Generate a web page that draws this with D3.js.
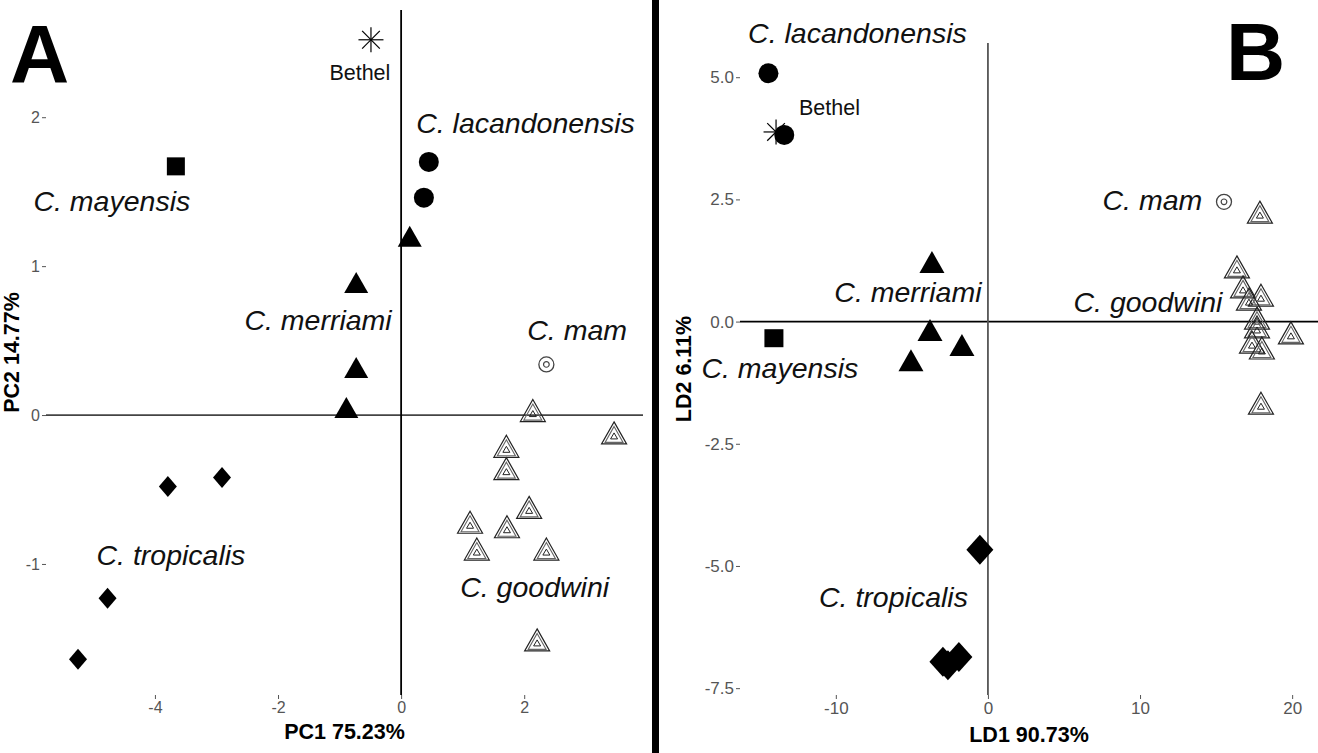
<!DOCTYPE html>
<html>
<head>
<meta charset="utf-8">
<script src="https://cdn.jsdelivr.net/npm/d3@7"></script>
<style>
  html, body { margin: 0; padding: 0; background: #fff; }
  svg { display: block; font-family: "Liberation Sans", Arial, sans-serif; }
</style>
</head>
<body>
<svg id="chart" width="1318" height="753"></svg>
<script>
  'use strict';

  // ---- panel A : PCA scores ----
  var pcaBethel = [[-0.49, 2.52]];
  var pcaMayensis = [[-3.66, 1.67]];
  var pcaLacandonensis = [[0.45, 1.70], [0.37, 1.46]];
  var pcaMerriami = [[0.14, 1.20], [-0.73, 0.89], [-0.73, 0.32], [-0.89, 0.05]];
  var pcaMam = [[2.36, 0.34]];
  var pcaGoodwini = [[2.14, 0.03], [3.46, -0.12], [1.71, -0.21], [1.71, -0.36], [2.08, -0.62],
    [1.12, -0.72], [1.72, -0.75], [1.23, -0.90], [2.36, -0.90], [2.21, -1.51]];
  var pcaTropicalis = [[-3.79, -0.48], [-2.91, -0.42], [-4.77, -1.23], [-5.25, -1.64]];
  var pcaXTicks = [-4, -2, 0, 2];
  var pcaYTicks = [-1, 0, 1, 2];
  var pcaLabels = [
    ['Bethel', -0.67, 2.30],
    ['C. lacandonensis', 2.02, 1.96],
    ['C. mayensis', -4.70, 1.44],
    ['C. merriami', -1.35, 0.64],
    ['C. mam', 2.86, 0.57],
    ['C. tropicalis', -3.74, -0.94],
    ['C. goodwini', 2.17, -1.155]
  ];

  // ---- panel B : LDA scores ----
  var ldaBethel = [[-13.93, 3.88]];
  var ldaMayensis = [[-14.07, -0.34]];
  var ldaLacandonensis = [[-14.43, 5.08], [-13.39, 3.82]];
  var ldaMerriami = [[-3.68, 1.22], [-3.81, -0.17], [-1.71, -0.48], [-5.06, -0.79]];
  var ldaMam = [[15.52, 2.45]];
  var ldaGoodwini = [[17.88, 2.24], [16.37, 1.12], [16.77, 0.71], [17.95, 0.54], [17.16, 0.46],
    [17.69, 0.07], [17.69, -0.11], [19.92, -0.23], [17.36, -0.42], [18.01, -0.54], [17.95, -1.67]];
  var ldaTropicalis = [[-0.53, -4.67], [-2.96, -6.96], [-1.91, -6.86], [-2.63, -7.03]];
  var ldaXTicks = [-10, 0, 10, 20];
  var ldaYTicks = [-7.5, -5, -2.5, 0, 2.5, 5];
  var ldaLabels = [
    ['Bethel', -10.42, 4.37],
    ['C. lacandonensis', -8.58, 5.90],
    ['C. mayensis', -13.68, -0.95],
    ['C. merriami', -5.26, 0.61],
    ['C. mam', 10.81, 2.49],
    ['C. tropicalis', -6.21, -5.63],
    ['C. goodwini', 10.52, 0.40]
  ];

  var svg = d3.select('#chart');

  // ggplot prints a plain hyphen, not the unicode minus d3 uses
  function hyphen(fmt) {
    return function(d) { return fmt(d).replace('\u2212', '-'); };
  }

  // divider between the two panels
  svg.append('rect')
    .attr('x', 652)
    .attr('y', 0)
    .attr('width', 7)
    .attr('height', 753)
    .attr('fill', '#000');

  drawPanel({
    letter: 'A', letterX: 10, letterY: 82,
    xDomain: [-5.77, 3.93], xRange: [46, 643],
    yDomain: [-1.88, 2.72], yRange: [695, 10],
    xTicks: pcaXTicks, yTicks: pcaYTicks, yFormat: d3.format('d'), tickFont: 16,
    xTitle: 'PC1 75.23%', xTitleY: 739,
    yTitle: 'PC2 14.77%', yTitleX: 12,
    hColor: '#444', vColor: '#000',
    groups: [
      { pts: pcaMayensis, kind: 'square', w: 18, h: 18 },
      { pts: pcaLacandonensis, kind: 'circle', w: 20, h: 20 },
      { pts: pcaMerriami, kind: 'triangle', w: 24, h: 21 },
      { pts: pcaTropicalis, kind: 'diamond', w: 18, h: 21 },
      { pts: pcaMam, kind: 'target', w: 17, h: 17 },
      { pts: pcaGoodwini, kind: 'hollowTri', w: 25, h: 22 },
      { pts: pcaBethel, kind: 'asterisk', w: 25, h: 25 }
    ],
    labels: pcaLabels
  });

  drawPanel({
    letter: 'B', letterX: 1226, letterY: 80,
    xDomain: [-16.3, 21.7], xRange: [740, 1318],
    yDomain: [-7.64, 5.70], yRange: [695, 43],
    xTicks: ldaXTicks, yTicks: ldaYTicks, yFormat: d3.format('.1f'), tickFont: 17,
    xTitle: 'LD1 90.73%', xTitleY: 742,
    yTitle: 'LD2 6.11%', yTitleX: 684,
    hColor: '#000', vColor: '#555',
    groups: [
      { pts: ldaMayensis, kind: 'square', w: 19, h: 18 },
      { pts: ldaLacandonensis, kind: 'circle', w: 20, h: 20 },
      { pts: ldaMerriami, kind: 'triangle', w: 25, h: 22 },
      { pts: ldaTropicalis, kind: 'diamond', w: 27, h: 30 },
      { pts: ldaMam, kind: 'target', w: 17, h: 17 },
      { pts: ldaGoodwini, kind: 'hollowTri', w: 25, h: 22 },
      { pts: ldaBethel, kind: 'asterisk', w: 25, h: 25 }
    ],
    labels: ldaLabels
  });

  function drawPanel(cfg) {
    var x = d3.scaleLinear().domain(cfg.xDomain).range(cfg.xRange);
    var y = d3.scaleLinear().domain(cfg.yDomain).range(cfg.yRange);
    var g = svg.append('g');

    // axes (ticks + labels only, no domain line)
    var xAxis = g.append('g')
      .attr('transform', 'translate(0,' + cfg.yRange[0] + ')')
      .call(d3.axisBottom(x).tickValues(cfg.xTicks).tickFormat(hyphen(d3.format('d')))
        .tickSize(4).tickPadding(3));
    var yAxis = g.append('g')
      .attr('transform', 'translate(' + cfg.xRange[0] + ',0)')
      .call(d3.axisLeft(y).tickValues(cfg.yTicks).tickFormat(hyphen(cfg.yFormat))
        .tickSize(4).tickPadding(2));
    [xAxis, yAxis].forEach(function(ax) {
      ax.select('.domain').remove();
      ax.selectAll('.tick line').attr('stroke', '#555');
      ax.selectAll('.tick text')
        .attr('fill', '#555')
        .style('font-size', cfg.tickFont + 'px')
        .style('font-family', '"Liberation Sans", Arial, sans-serif');
    });

    // zero lines
    g.append('line')
      .attr('x1', cfg.xRange[0]).attr('x2', cfg.xRange[1])
      .attr('y1', y(0)).attr('y2', y(0))
      .attr('stroke', cfg.hColor).attr('stroke-width', 1.8);
    g.append('line')
      .attr('x1', x(0)).attr('x2', x(0))
      .attr('y1', cfg.yRange[1]).attr('y2', cfg.yRange[0])
      .attr('stroke', cfg.vColor).attr('stroke-width', 1.8);

    // axis titles
    g.append('text')
      .attr('x', (cfg.xRange[0] + cfg.xRange[1]) / 2)
      .attr('y', cfg.xTitleY)
      .attr('text-anchor', 'middle')
      .style('font-size', '21.5px')
      .style('font-weight', 'bold')
      .text(cfg.xTitle);
    g.append('text')
      .attr('transform', 'translate(' + cfg.yTitleX + ',' + (cfg.yRange[0] + cfg.yRange[1]) / 2 + ') rotate(-90)')
      .attr('text-anchor', 'middle')
      .attr('dominant-baseline', 'central')
      .style('font-size', '21.5px')
      .style('font-weight', 'bold')
      .text(cfg.yTitle);

    // points
    cfg.groups.forEach(function(grp) {
      g.selectAll(null)
        .data(grp.pts)
        .enter()
        .append('g')
        .attr('transform', function(d) { return 'translate(' + x(d[0]) + ',' + y(d[1]) + ')'; })
        .each(function() { drawMarker(d3.select(this), grp.kind, grp.w, grp.h); });
    });

    // species labels
    g.selectAll(null)
      .data(cfg.labels)
      .enter()
      .append('text')
      .attr('x', function(d) { return x(d[1]); })
      .attr('y', function(d) { return y(d[2]); })
      .attr('text-anchor', 'middle')
      .attr('dominant-baseline', 'central')
      .style('font-size', function(d) { return d[0] === 'Bethel' ? '21.5px' : '28.5px'; })
      .style('font-style', function(d) { return d[0] === 'Bethel' ? 'normal' : 'italic'; })
      .attr('fill', '#111')
      .text(function(d) { return d[0]; });

    // panel letter
    g.append('text')
      .attr('x', cfg.letterX)
      .attr('y', cfg.letterY)
      .style('font-size', '82px')
      .style('font-weight', 'bold')
      .text(cfg.letter);
  }

  function drawMarker(sel, kind, w, h) {
    var tri = function(tw, th, dy) {
      return 'M0,' + (dy - th / 2) + 'L' + (tw / 2) + ',' + (dy + th / 2) + 'L' + (-tw / 2) + ',' + (dy + th / 2) + 'Z';
    };
    if (kind === 'circle') {
      sel.append('circle').attr('r', w / 2).attr('fill', '#000');
    } else if (kind === 'square') {
      sel.append('rect').attr('x', -w / 2).attr('y', -h / 2).attr('width', w).attr('height', h).attr('fill', '#000');
    } else if (kind === 'triangle') {
      sel.append('path').attr('d', tri(w, h, 0)).attr('fill', '#000');
    } else if (kind === 'diamond') {
      sel.append('path')
        .attr('d', 'M0,' + (-h / 2) + 'L' + (w / 2) + ',0L0,' + (h / 2) + 'L' + (-w / 2) + ',0Z')
        .attr('fill', '#000');
    } else if (kind === 'target') {
      sel.append('circle').attr('r', w / 2 - 1).attr('fill', 'none').attr('stroke', '#444').attr('stroke-width', 1.3);
      sel.append('circle').attr('r', w / 6).attr('fill', 'none').attr('stroke', '#444').attr('stroke-width', 1.2);
    } else if (kind === 'hollowTri') {
      sel.append('path').attr('d', tri(w, h, 0)).attr('fill', 'none').attr('stroke', '#222').attr('stroke-width', 1.2);
      sel.append('path').attr('d', tri(w - 7, h - 6, 1.5)).attr('fill', 'none').attr('stroke', '#666').attr('stroke-width', 1.1);
      sel.append('path').attr('d', tri(7, 6, 3)).attr('fill', 'none').attr('stroke', '#222').attr('stroke-width', 1);
    } else if (kind === 'asterisk') {
      [0, 45, 90, 135].forEach(function(a) {
        var rad = a * Math.PI / 180;
        var r = w / 2;
        sel.append('line')
          .attr('x1', -r * Math.cos(rad)).attr('y1', -r * Math.sin(rad))
          .attr('x2', r * Math.cos(rad)).attr('y2', r * Math.sin(rad))
          .attr('stroke', '#000').attr('stroke-width', 1.2);
      });
    }
  }
</script>
</body>
</html>
